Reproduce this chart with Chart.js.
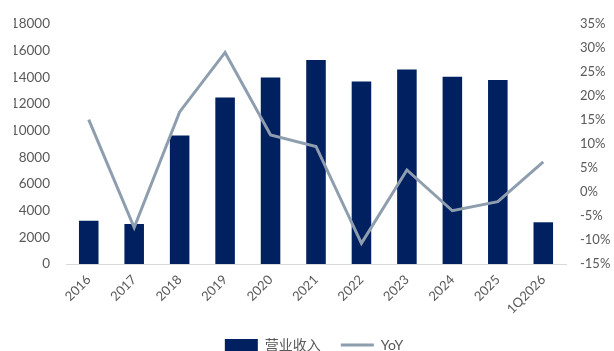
<!DOCTYPE html>
<html>
<head>
<meta charset="utf-8">
<script src="https://cdn.jsdelivr.net/npm/chart.js@4"></script>
<style>
  html, body { margin: 0; padding: 0; background: #fff; }
  #wrap { width: 614px; height: 351px; }
</style>
</head>
<body>
<div id="wrap"><canvas id="chart" width="614" height="351"></canvas></div>
<script>
// --- data ---
const CATEGORIES = ["2016", "2017", "2018", "2019", "2020", "2021", "2022", "2023", "2024", "2025", "1Q2026"];
const REVENUE = [3250, 3000, 9650, 12500, 14000, 15300, 13700, 14600, 14050, 13800, 3130];
const YOY = [15.1, -7.4, 16.7, 29.1, 11.9, 9.5, -10.7, 4.6, -3.9, -2.0, 6.3];
const LEFT_TICKS = { min: 0, max: 18000, step: 2000 };
const RIGHT_TICKS = { min: -15, max: 35, step: 5 };

const NAVY = "#002060";
const GREYBLUE = "#8E9EAF";
const TICK = "#595959";
const FONT = "Lato, 'Noto Sans CJK SC', sans-serif";

const ctx = document.getElementById("chart").getContext("2d");
new Chart(ctx, {
    data: {
        labels: CATEGORIES,
        datasets: [
            {
                type: "bar",
                label: "营业收入",
                data: REVENUE,
                backgroundColor: NAVY,
                borderWidth: 0,
                barPercentage: 0.86,
                categoryPercentage: 0.5,
                yAxisID: "y",
                pointStyle: "rect",
                order: 2
            },
            {
                type: "line",
                label: "YoY",
                data: YOY,
                borderColor: GREYBLUE,
                backgroundColor: GREYBLUE,
                borderWidth: 3,
                pointRadius: 0,
                tension: 0,
                yAxisID: "y1",
                pointStyle: "line",
                order: 1
            }
        ]
    },
    options: {
        responsive: false,
        animation: false,
        // left padding nudges the centred legend right; the y axis width makes up for it
        layout: { padding: { top: 12, bottom: -11, left: 14, right: 0 } },
        plugins: {
            tooltip: { enabled: false },
            legend: {
                position: "bottom",
                labels: {
                    usePointStyle: true,
                    pointStyleWidth: 33,
                    boxHeight: 12,
                    padding: 20,
                    color: TICK,
                    font: { family: FONT, size: 14 },
                    sort: (a, b) => a.datasetIndex - b.datasetIndex
                }
            }
        },
        scales: {
            x: {
                grid: { display: false, drawTicks: false },
                border: { display: true, color: "#D9D9D9", width: 1 },
                ticks: {
                    color: TICK,
                    font: { family: FONT, size: 13 },
                    maxRotation: 45,
                    minRotation: 45,
                    padding: 8
                },
                afterFit: (s) => { s.height = 54; }
            },
            y: {
                position: "left",
                min: LEFT_TICKS.min,
                max: LEFT_TICKS.max,
                grid: { display: false, drawTicks: false },
                border: { display: false },
                ticks: {
                    stepSize: LEFT_TICKS.step,
                    color: TICK,
                    padding: 16,
                    font: { family: FONT, size: 13.5 },
                    callback: (v) => String(v)
                },
                afterFit: (s) => { s.width = 52; }
            },
            y1: {
                position: "right",
                min: RIGHT_TICKS.min,
                max: RIGHT_TICKS.max,
                grid: { display: false, drawTicks: false },
                border: { display: false },
                ticks: {
                    stepSize: RIGHT_TICKS.step,
                    color: TICK,
                    padding: 14,
                    font: { family: FONT, size: 13 },
                    callback: (v) => v + "%"
                },
                afterFit: (s) => { s.width = 48; }
            }
        }
    }
});
</script>
</body>
</html>
